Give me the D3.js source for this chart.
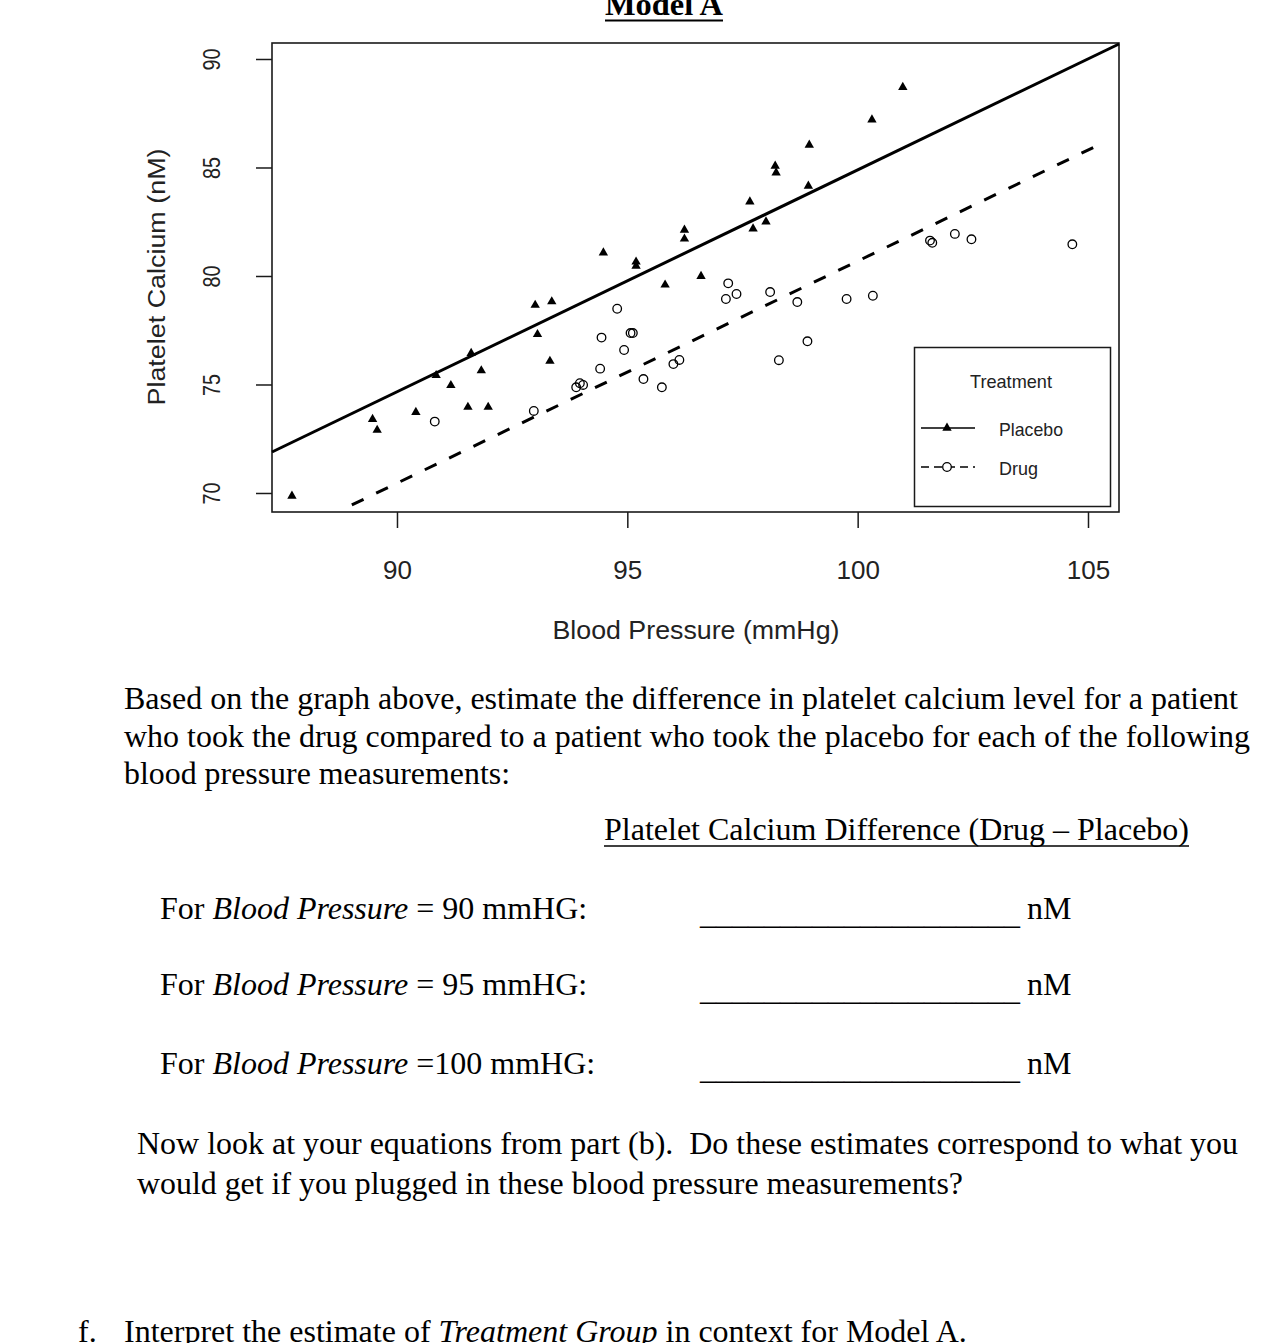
<!DOCTYPE html>
<html><head><meta charset="utf-8">
<script src="https://cdn.jsdelivr.net/npm/d3@7"></script>
<style>
body{margin:0;background:#fff}
svg{display:block}
text{white-space:pre}
</style>
</head><body>
<svg id="c" width="1268" height="1343"></svg>
<script>
// ---- data ----
const placeboBP = [87.72,89.47,89.57,90.41,90.85,91.17,91.61,91.83,91.54,91.98,93.00,93.36,93.05,93.32,94.48,95.19,95.19,96.24,96.24,95.82,96.60,97.66,97.73,98.01,100.98,100.31,98.95,98.21,98.23,98.93];
const placeboCa = [69.86,73.40,72.90,73.72,75.42,74.96,76.44,75.64,73.96,73.96,78.66,78.82,77.31,76.08,81.07,80.65,80.46,82.12,81.71,79.59,79.99,83.42,82.18,82.50,88.70,87.20,86.04,85.07,84.76,84.15];
const drugBP = [90.82,92.97,94.78,94.44,95.07,95.12,94.93,94.41,93.89,93.97,94.04,95.35,95.75,96.00,96.13,97.19,97.14,97.37,98.10,98.69,98.91,98.29,99.76,100.33,101.57,101.62,102.11,102.47,104.66];
const drugCa = [73.29,73.78,78.49,77.16,77.37,77.37,76.59,75.73,74.87,75.06,74.98,75.25,74.87,75.94,76.13,79.66,78.94,79.17,79.26,78.80,76.99,76.12,78.94,79.09,81.63,81.53,81.94,81.69,81.46];
const placeboFitBP = [87.287,105.673];
const placeboFitCa = [71.89,90.69];
const drugFitBP = [89.02,105.32];
const drugFitCa = [69.45,86.13];
const xTicks = [90,95,100,105];
const yTicks = [70,75,80,85,90];
const legendTitle = "Treatment";
const legendLabels = ["Placebo","Drug"];
const xTitle = "Blood Pressure (mmHg)";
const yTitle = "Platelet Calcium (nM)";
const chartTitle = "Model A";

// ---- drawing ----
const svg = d3.select("#c");
const SANS = "'Liberation Sans', Arial, sans-serif";
const SERIF = "'Liberation Serif', 'Times New Roman', serif";
const ink = "#1a1a1a";

const x = d3.scaleLinear().domain([87.287,105.673]).range([272,1119]);
const y = d3.scaleLinear().domain([69.124,90.737]).range([512,43]);

// title
svg.append("text").attr("x",605).attr("y",15).attr("font-family",SERIF).attr("font-weight","bold")
  .attr("font-size",32).attr("fill","#000").attr("textLength",118).attr("lengthAdjust","spacingAndGlyphs").text(chartTitle);
svg.append("line").attr("x1",605).attr("x2",723).attr("y1",20.5).attr("y2",20.5).attr("stroke","#000").attr("stroke-width",2);

// axes
const gx = svg.append("g").attr("transform","translate(0,512)")
  .call(d3.axisBottom(x).tickValues(xTicks).tickSize(16).tickPadding(33).tickFormat(d3.format("d")));
gx.select(".domain").remove();
gx.selectAll(".tick line").attr("stroke",ink).attr("stroke-width",1.5);
gx.selectAll(".tick text").attr("font-family",SANS).attr("font-size",26).attr("fill","#222");

const gy = svg.append("g").attr("transform","translate(272,0)")
  .call(d3.axisLeft(y).tickValues(yTicks).tickSize(16).tickFormat(d3.format("d")));
gy.select(".domain").remove();
gy.selectAll(".tick line").attr("stroke",ink).attr("stroke-width",1.5);
gy.selectAll(".tick text").attr("font-family",SANS).attr("font-size",23).attr("fill","#222")
  .attr("transform","rotate(-90)").attr("x",0).attr("y",-52).attr("dy",0).attr("text-anchor","middle")
  .attr("textLength",22).attr("lengthAdjust","spacingAndGlyphs");

// box
svg.append("rect").attr("x",272).attr("y",43).attr("width",847).attr("height",469)
  .attr("fill","none").attr("stroke",ink).attr("stroke-width",1.6);

// axis titles
svg.append("text").attr("x",696).attr("y",639).attr("text-anchor","middle").attr("font-family",SANS)
  .attr("font-size",25).attr("fill","#222").attr("textLength",287).attr("lengthAdjust","spacingAndGlyphs").text(xTitle);
svg.append("text").attr("transform","translate(165,277) rotate(-90)").attr("text-anchor","middle").attr("font-family",SANS)
  .attr("font-size",23).attr("fill","#222").attr("textLength",257).attr("lengthAdjust","spacingAndGlyphs").text(yTitle);

// fitted lines
const line = d3.line().x(d=>x(d[0])).y(d=>y(d[1]));
svg.append("path").attr("d",line(d3.zip(placeboFitBP,placeboFitCa))).attr("fill","none")
  .attr("stroke","#000").attr("stroke-width",3);
svg.append("path").attr("d",line(d3.zip(drugFitBP,drugFitCa))).attr("fill","none")
  .attr("stroke","#000").attr("stroke-width",3).attr("stroke-dasharray","13,14");

// points
const tri = d3.symbol(d3.symbolTriangle,38);
svg.append("g").selectAll("path").data(d3.zip(placeboBP,placeboCa)).join("path")
  .attr("d",tri).attr("transform",d=>`translate(${x(d[0])},${y(d[1])})`).attr("fill","#000");
svg.append("g").selectAll("circle").data(d3.zip(drugBP,drugCa)).join("circle")
  .attr("cx",d=>x(d[0])).attr("cy",d=>y(d[1])).attr("r",4.3)
  .attr("fill","none").attr("stroke","#000").attr("stroke-width",1.3);

// legend
const lg = svg.append("g");
lg.append("rect").attr("x",914.5).attr("y",347.5).attr("width",196).attr("height",159)
  .attr("fill","#fff").attr("stroke",ink).attr("stroke-width",1.5);
lg.append("text").attr("x",1011).attr("y",388).attr("text-anchor","middle").attr("font-family",SANS)
  .attr("font-size",19).attr("fill","#222").attr("textLength",82).attr("lengthAdjust","spacingAndGlyphs").text(legendTitle);
const rowsY = [428,467];
const rowW = [64,39];
legendLabels.forEach((lab,i)=>{
  const ly = rowsY[i];
  lg.append("line").attr("x1",921).attr("x2",975).attr("y1",ly).attr("y2",ly).attr("stroke","#000")
    .attr("stroke-width",1.5).attr("stroke-dasharray", i===1 ? "8,5" : null);
  if(i===0){
    lg.append("path").attr("d",d3.symbol(d3.symbolTriangle,38)).attr("transform",`translate(947,${ly})`).attr("fill","#000");
  } else {
    lg.append("circle").attr("cx",947).attr("cy",ly).attr("r",4.3).attr("fill","#fff").attr("stroke","#000").attr("stroke-width",1.3);
  }
  lg.append("text").attr("x",999).attr("y",ly+8).attr("font-family",SANS).attr("font-size",19).attr("fill","#222")
    .attr("textLength",rowW[i]).attr("lengthAdjust","spacingAndGlyphs").text(lab);
});

// ---- document text below ----
function para(xp, yp, parts, opts={}){
  const t = svg.append("text").attr("x",xp).attr("y",yp).attr("font-family",SERIF).attr("font-size",32).attr("fill","#000");
  if(opts.len) t.attr("textLength",opts.len).attr("lengthAdjust","spacingAndGlyphs");
  parts.forEach(p=>{
    const s = t.append("tspan").text(p.t);
    if(p.i) s.attr("font-style","italic");
  });
  return t;
}
para(124,709,[{t:"Based on the graph above, estimate the difference in platelet calcium level for a patient"}],{len:1114});
para(124,747,[{t:"who took the drug compared to a patient who took the placebo for each of the following"}],{len:1126});
para(124,784,[{t:"blood pressure measurements:"}],{len:386});
para(604,840,[{t:"Platelet Calcium Difference (Drug \u2013 Placebo)"}],{len:585});
svg.append("line").attr("x1",604).attr("x2",1189).attr("y1",846).attr("y2",846).attr("stroke","#000").attr("stroke-width",1.5);

const rowsBP = [["For ",{i:"Blood Pressure"}," = 90 mmHG:"],["For ",{i:"Blood Pressure"}," = 95 mmHG:"],["For ",{i:"Blood Pressure"}," =100 mmHG:"]];
const rowBase = [919,995,1074];
rowsBP.forEach((r,i)=>{
  para(160,rowBase[i],r.map(p=> typeof p==="string" ? {t:p} : {t:p.i,i:true}));
  para(700,rowBase[i]+5,[{t:"____________________"}],{len:320});
  para(1027,rowBase[i],[{t:"nM"}]);
});
para(137,1154,[{t:"Now look at your equations from part (b).  Do these estimates correspond to what you"}],{len:1101});
para(137,1194,[{t:"would get if you plugged in these blood pressure measurements?"}],{len:826});
para(78,1342,[{t:"f."}]);
para(124,1342,[{t:"Interpret the estimate of "},{t:"Treatment Group",i:true},{t:" in context for Model A."}]);
</script>
</body></html>
